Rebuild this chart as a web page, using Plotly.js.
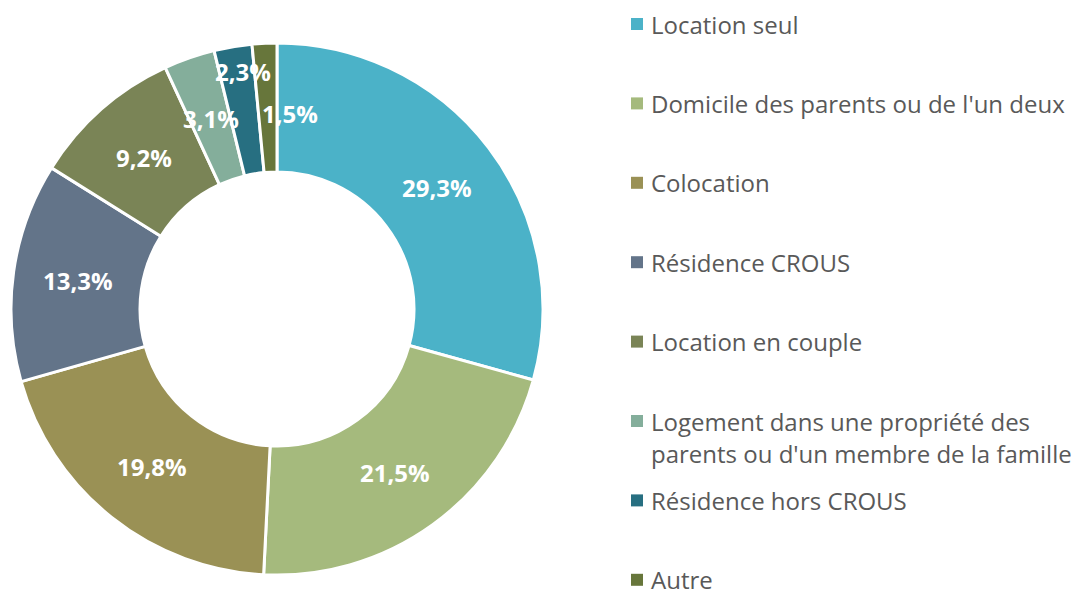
<!DOCTYPE html>
<html>
<head>
<meta charset="utf-8">
<script src="https://cdn.plot.ly/plotly-3.0.1.min.js"></script>
<style>html,body{margin:0;padding:0;background:#fff;}#chart{width:1080px;height:592px;}</style>
</head>
<body>
<div id="chart"></div>
<script>
const categories = [
  "Location seul",
  "Domicile des parents ou de l'un deux",
  "Colocation",
  "Résidence CROUS",
  "Location en couple",
  "Logement dans une propriété des<br>parents ou d'un membre de la famille",
  "Résidence hors CROUS",
  "Autre"
];
const values = [29.3, 21.5, 19.8, 13.3, 9.2, 3.1, 2.3, 1.5];
const colors = ["#4BB2C8", "#A5BA7D", "#9A9155", "#637489", "#7A8456", "#84AE9B", "#276F81", "#67763B"];

// label nudges in pixels (layout only), to mimic the reference's placement of small-slice labels
const labelNudge = [[0, 0], [0, 0], [0, 0], [0, 0], [0, 0], [0, 0], [-1, -39], [22, 6]];

const W = 1080, H = 592;
const cx = 277, cy = 309, rOut = 266, rIn = 137;
const rLab = (rOut + rIn) / 2;

const trace = {
  type: 'pie',
  labels: categories,
  values: values,
  sort: false,
  direction: 'clockwise',
  rotation: 0,
  hole: rIn / rOut,
  marker: {colors: colors, line: {color: '#ffffff', width: 3}},
  textinfo: 'none',
  hoverinfo: 'label+percent',
  showlegend: false,
  domain: {x: [(cx - rOut) / W, (cx + rOut) / W], y: [1 - (cy + rOut) / H, 1 - (cy - rOut) / H]}
};

const annotations = [];
const shapes = [];
const total = values.reduce((a, b) => a + b, 0);
let cum = 0;
values.forEach((v, i) => {
  const mid = (cum + v / 2) / total * 2 * Math.PI;
  cum += v;
  const px = cx + rLab * Math.sin(mid) + labelNudge[i][0];
  const py = cy - rLab * Math.cos(mid) + labelNudge[i][1];
  annotations.push({
    xref: 'paper', yref: 'paper', x: px / W, y: 1 - py / H,
    xanchor: 'center', yanchor: 'middle', showarrow: false,
    text: '<b>' + v.toFixed(1).replace('.', ',') + '%</b>',
    font: {family: 'Open Sans, sans-serif', size: 24, color: '#ffffff'}
  });
});

// legend
const legX = 631, legTextX = 649, legY0 = 24, legStep = 79.4, lineStep = 32;
categories.forEach((c, i) => {
  const y = legY0 + legStep * i;
  shapes.push({
    type: 'rect', xref: 'paper', yref: 'paper',
    x0: legX / W, x1: (legX + 12) / W, y0: 1 - (y + 6) / H, y1: 1 - (y - 6) / H,
    fillcolor: colors[i], line: {width: 0}
  });
  c.split('<br>').forEach((line, k) => {
    annotations.push({
      xref: 'paper', yref: 'paper', x: legTextX / W, y: 1 - (y + k * lineStep) / H,
      xanchor: 'left', yanchor: 'middle', showarrow: false, align: 'left',
      text: line,
      font: {family: 'Open Sans, sans-serif', size: 24, color: '#595959'}
    });
  });
});

const layout = {
  width: W, height: H,
  margin: {l: 0, r: 0, t: 0, b: 0},
  paper_bgcolor: '#ffffff',
  showlegend: false,
  annotations: annotations,
  shapes: shapes
};

Plotly.newPlot('chart', [trace], layout, {displayModeBar: false, staticPlot: true});
</script>
</body>
</html>
